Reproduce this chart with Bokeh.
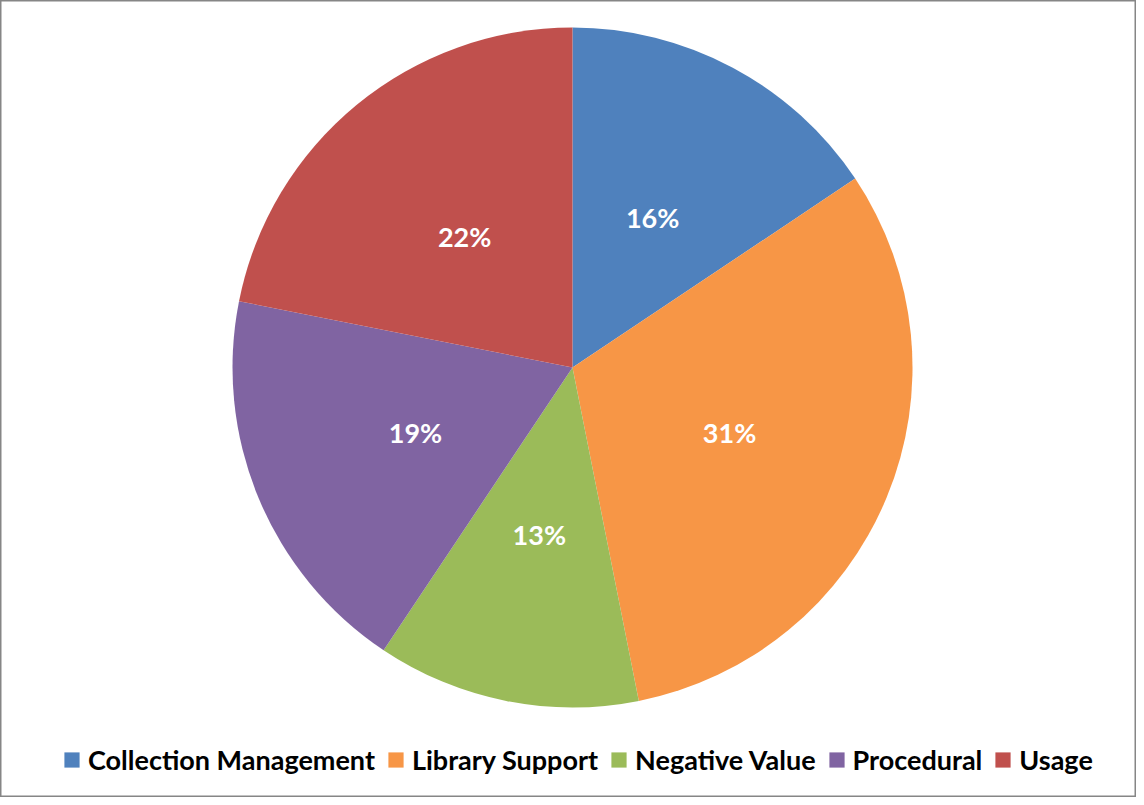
import math
from bokeh.plotting import figure
from bokeh.models import Range1d, Legend, LegendItem, ColumnDataSource
from bokeh.embed import file_html
from bokeh.resources import INLINE
from bokeh.core.properties import value

categories = ["Collection Management", "Library Support", "Negative Value", "Procedural", "Usage"]
counts = [5, 10, 4, 6, 7]
colors = ["#4F81BD", "#F79646", "#9BBB59", "#8064A2", "#C0504D"]

W, H = 1136, 797
CX, CY, R = 572, 430, 340

total = sum(counts)
starts, ends, lx, ly, labels = [], [], [], [], []
cum = 0.0
for c in counts:
    f0 = cum / total
    f1 = (cum + c) / total
    a0 = math.pi / 2 - 2 * math.pi * f0
    a1 = math.pi / 2 - 2 * math.pi * f1
    starts.append(a0)
    ends.append(a1)
    am = (a0 + a1) / 2
    lx.append(CX + 0.5 * R * math.cos(am))
    ly.append(CY + 0.5 * R * math.sin(am))
    labels.append(f"{int(math.floor(100 * c / total + 0.5))}%")
    cum += c

p = figure(width=W, height=H, output_backend="svg", toolbar_location=None,
           x_range=Range1d(0, W), y_range=Range1d(0, H), min_border=0)
p.axis.visible = False
p.grid.visible = False
p.outline_line_color = "#868686"
p.outline_line_width = 2
p.background_fill_color = "white"

items = []
for i, cat in enumerate(categories):
    src = ColumnDataSource(dict(x=[CX], y=[CY], s=[starts[i]], e=[ends[i]]))
    r = p.wedge(x="x", y="y", radius=R, start_angle="s", end_angle="e",
                direction="clock", fill_color=colors[i], line_color=None, source=src)
    items.append(LegendItem(label=cat, renderers=[r]))

p.text(x=lx, y=ly, text=labels, text_color="white", text_font=value("Lato"),
       text_font_style="bold", text_font_size="27px", text_align="center",
       text_baseline="middle")

legend = Legend(items=items, orientation="horizontal", location=(62, 21),
                label_text_font="Lato", label_text_font_style="bold",
                label_text_font_size="27px", label_text_color="black",
                glyph_width=19, glyph_height=19, label_standoff=7, spacing=11,
                padding=0, margin=0, border_line_alpha=0, background_fill_alpha=0)
p.add_layout(legend, "center")

open("out.html", "w").write(file_html(p, INLINE))
